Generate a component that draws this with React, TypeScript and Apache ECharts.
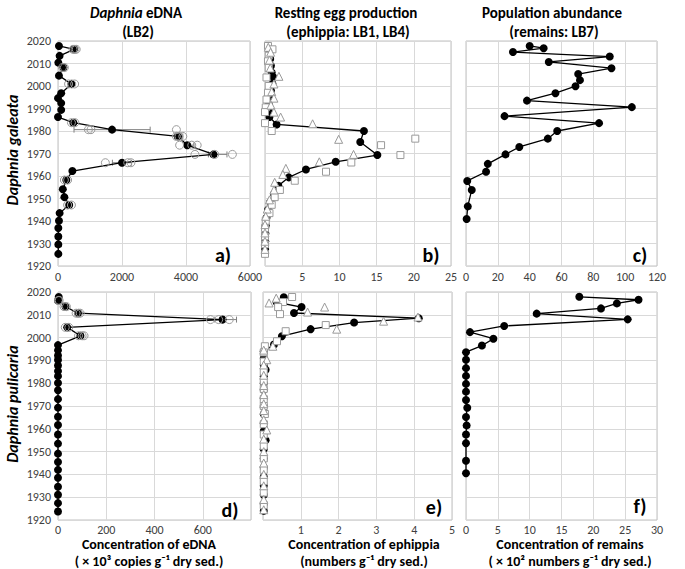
import React, { useEffect, useRef } from 'react';
import * as echarts from 'echarts';

const FONT = 'Carlito, Lato, "Noto Sans", sans-serif';

// ---------- Panel a: D. galeata eDNA (LB2) ----------
const aYears = [2017.8, 2016.3, 2013.4, 2010.4, 2008.2, 2004.6, 2000.9, 1996.8, 1994.6, 1992.4, 1989.4, 1986.2, 1983.7, 1980.6, 1977.6, 1973.7, 1969.6, 1965.9, 1962.2, 1958.2, 1954.1, 1950.6, 1947.1, 1943.5, 1940.1, 1936.9, 1933.1, 1929.6, 1925.4];
const aMean = [30, 500, 50, 10, 170, 30, 420, 100, 0, 100, 100, 0, 480, 1690, 3750, 4040, 4860, 2000, 450, 260, 150, 200, 350, 50, 30, 10, 10, 10, 10];
const aRepYears = [2016.3, 2016.3, 2016.3, 2008.2, 2008.2, 2000.9, 2000.9, 2000.9, 1983.7, 1983.7, 1980.6, 1980.6, 1980.6, 1977.6, 1977.6, 1977.6, 1973.7, 1973.7, 1973.7, 1969.6, 1969.6, 1969.6, 1965.9, 1965.9, 1965.9, 1958.2, 1958.2, 1947.1, 1947.1];
const aRepVals = [470, 530, 570, 140, 200, 330, 430, 520, 420, 530, 950, 1030, 3700, 3700, 3780, 3900, 3800, 4180, 4350, 4280, 4900, 5450, 1480, 2180, 2280, 200, 300, 300, 420];
const aErrYears = [1980.6, 1977.6, 1973.7, 1969.6, 1965.9];
const aErrLow = [500, 3650, 3950, 4700, 1700];
const aErrHigh = [2880, 3900, 4250, 5280, 2300];

// ---------- Panel b: D. galeata ephippia (LB1, LB4) ----------
const bYears = [2017.8, 2015, 2012, 2009, 2006, 2004.1, 2001, 1998, 1995, 1992, 1989, 1986.2, 1982.9, 1980, 1975.1, 1969.3, 1966.3, 1962.9, 1959.4, 1955.7, 1952, 1948.5, 1945, 1941.5, 1938, 1934.5, 1931, 1927.5];
const bMean = [0.4, 0.6, 0.7, 0.8, 0.9, 1.07, 1.0, 0.8, 0.6, 0.5, 0.5, 0.6, 1.56, 13.3, 12.8, 15.1, 9.5, 5.5, 3.2, 1.8, 1.2, 0.7, 0.4, 0.2, 0.1, 0.05, 0.03, 0.02];
const bSqYears = [2017.8, 2016.3, 2013.5, 2011, 2008, 2003.8, 2000, 1997, 1994, 1990.5, 1988.4, 1983.5, 1980, 1976.6, 1973.7, 1969.3, 1966, 1961.9, 1957.9, 1953.8, 1950.6, 1947.2, 1943.5, 1940.1, 1936.9, 1933.2, 1929.6, 1925.4];
const bSqVals = [0.4, 1.0, 0.5, 0.4, 0.5, 0.2, 0.5, 0.4, 0.2, 0.1, 0, 0, 0.9, 20.2, 15.6, 18.2, 11.6, 8.2, 4.0, 2.0, 1.3, 0.9, 0.6, 0.1, 0, 0, 0, 0];
const bTriYears = [2017.2, 2015, 2011.5, 2008, 2004.3, 2000.9, 1997.5, 1994.6, 1991.5, 1988.4, 1986.2, 1983.2, 1976.3, 1969.6, 1966.3, 1963.4, 1960.7, 1957.2, 1953.8, 1949.4, 1945.3, 1942.1, 1938.4, 1934.7, 1931, 1927.4];
const bTriVals = [0.44, 0.75, 0.6, 0.7, 1.87, 1.2, 0.9, 1.2, 0.8, 1.2, 2.1, 6.4, 9.9, 11.9, 7.3, 2.8, 2.4, 1.3, 1.2, 0.6, 0.3, 0.1, 0, 0, 0, 0];

// ---------- Panel c: D. galeata remains (LB7) ----------
const cYears = [2017.8, 2016.8, 2015.1, 2013.1, 2010.7, 2007.9, 2005.3, 2002.6, 1999.9, 1996.8, 1993.5, 1990.6, 1986.6, 1983.5, 1980.0, 1976.6, 1972.9, 1969.6, 1965.4, 1961.9, 1957.8, 1953.8, 1946.5, 1940.9];
const cVals = [40, 48.8, 29.5, 90.3, 52, 91.4, 70.5, 71.6, 68.8, 56.2, 38.3, 104.2, 24.2, 83.6, 57.3, 51.4, 33.5, 24.8, 13.7, 12.6, 0.8, 3.6, 1.1, 0.4];

// ---------- Panel d: D. pulicaria eDNA ----------
const dYears = [2017.8, 2016.3, 2013.6, 2010.7, 2007.9, 2004.5, 2000.8, 1996.7, 1994.4, 1992.2, 1990.2, 1987.8, 1985.3, 1983.1, 1980.1, 1976.9, 1973.0, 1969.3, 1965.3, 1961.7, 1957.5, 1953.5, 1949.1, 1945.4, 1942.0, 1938.5, 1934.6, 1931.1, 1927.4, 1923.7];
const dMean = [3, 0, 31, 83, 682, 38, 93, 0, 0, 0, 0, 0, 0, 0, 0, 0, 0, 0, 0, 0, 0, 0, 0, 0, 0, 0, 0, 0, 0, 0];
const dRepYears = [2016.3, 2016.3, 2013.6, 2013.6, 2010.7, 2010.7, 2010.7, 2007.9, 2007.9, 2007.9, 2004.5, 2004.5, 2000.8, 2000.8, 2000.8];
const dRepVals = [2, 5, 25, 35, 75, 85, 92, 632, 666, 710, 30, 45, 85, 100, 108];
const dErrYears = [2007.9];
const dErrLow = [650];
const dErrHigh = [740];

// ---------- Panel e: D. pulicaria ephippia ----------
const eYears = [2017.7, 2015.5, 2013.4, 2010.8, 2008.5, 2006.6, 2003.7, 2000.6, 1997.0, 1994, 1991, 1988, 1985.9, 1983, 1980, 1977, 1973.5, 1970, 1966.5, 1962.5, 1959, 1955, 1951, 1947, 1943, 1939, 1935, 1931, 1927, 1924];
const eMean = [0.55, 0.36, 1.02, 0.82, 4.12, 2.41, 1.26, 0.5, 0.29, 0.02, 0.02, 0.02, 0.07, 0.02, 0.02, 0.02, 0.02, 0.02, 0.02, 0.02, 0.02, 0.07, 0.02, 0.02, 0.02, 0.02, 0.02, 0.02, 0.02, 0.02];
const eSqYears = [2017.8, 2015.6, 2013.4, 2010.3, 2005.5, 2002.8, 1998.4, 1996.2, 1993.5, 1989.5, 1985, 1981, 1977.5, 1973, 1970, 1966.5, 1962, 1957.5, 1952.5, 1947, 1942, 1937, 1932, 1926.5];
const eSqVals = [0.77, 0.53, 0.4, 0.45, 1.66, 0.6, 0.37, 0.05, 0.02, 0.02, 0.02, 0.02, 0.02, 0.02, 0.02, 0.05, 0.02, 0.02, 0.02, 0.02, 0.02, 0.02, 0.02, 0.02];
const eTriYears = [2017.3, 2015.2, 2013.4, 2011.2, 2009, 2007.2, 2003.7, 1996.2, 1994.5, 1990.3, 1988, 1983.5, 1979, 1975, 1971, 1968, 1964, 1959.5, 1955.5, 1950, 1945, 1940, 1935, 1929, 1924.5];
const eTriVals = [0.35, 0.16, 1.63, 1.18, 4.1, 3.19, 1.95, 0.26, 0.02, 0.1, 0.02, 0.02, 0.02, 0.02, 0.02, 0.02, 0.02, 0.1, 0.02, 0.02, 0.02, 0.02, 0.02, 0.02, 0.02];

// ---------- Panel f: D. pulicaria remains ----------
const fYears = [2017.9, 2016.6, 2015.0, 2012.8, 2010.5, 2008.0, 2005.1, 2002.4, 1999.5, 1996.5, 1993.6, 1990.3, 1986.6, 1983.2, 1979.7, 1976.3, 1972.6, 1969.2, 1965.2, 1961.5, 1957.5, 1953.7, 1946.0, 1940.5];
const fVals = [17.8, 27.1, 23.7, 21.2, 11.1, 25.4, 6.0, 0.63, 4.3, 2.5, 0, 0, 0, 0, 0, 0, 0, 0.2, 0, 0.1, 0, 0, 0, 0];

// ---------- axes ----------
const xMax = [6000, 25, 120, 800, 5, 30];
const xStep = [2000, 5, 20, 200, 1, 5];
const xHide = [null, 0, null, 800, 0, null];
const yMin = 1920;
const yMax = 2020;
const yStep = 10;
const panelLetters = ['a)', 'b)', 'c)', 'd)', 'e)', 'f)'];

const grids = [
  { left: 58, top: 41, width: 192, height: 225 },
  { left: 265, top: 41, width: 186, height: 225 },
  { left: 466, top: 41, width: 191, height: 225 },
  { left: 58, top: 292, width: 193, height: 228 },
  { left: 263, top: 292, width: 189, height: 228 },
  { left: 466, top: 292, width: 191, height: 228 },
];

const pairs = (xs: number[], ys: number[]) => ys.map((y, i) => [xs[i], y]);

function meanLine(idx: number, vals: number[], years: number[], size = 8, z = 4) {
  return {
    type: 'line', xAxisIndex: idx, yAxisIndex: idx,
    data: pairs(vals, years),
    symbol: 'circle', symbolSize: size,
    itemStyle: { color: '#000' },
    lineStyle: { color: '#000', width: 1.3 },
    z,
  };
}

function openMarks(idx: number, vals: number[], years: number[], symbol: string, size: number, fill: string, z: number) {
  return {
    type: 'scatter', xAxisIndex: idx, yAxisIndex: idx,
    data: pairs(vals, years),
    symbol, symbolSize: size,
    itemStyle: { color: fill, borderColor: '#9a9a9a', borderWidth: 1, opacity: 1 },
    z,
  };
}

function errBars(idx: number, years: number[], lo: number[], hi: number[]) {
  return {
    type: 'custom', xAxisIndex: idx, yAxisIndex: idx,
    data: years.map((y, i) => [lo[i], hi[i], y]),
    encode: { x: [0, 1], y: 2 },
    renderItem: (params: any, api: any) => {
      const p1 = api.coord([api.value(0), api.value(2)]);
      const p2 = api.coord([api.value(1), api.value(2)]);
      const h = 3;
      const st = { stroke: '#808080', lineWidth: 1 };
      return {
        type: 'group',
        children: [
          { type: 'line', shape: { x1: p1[0], y1: p1[1], x2: p2[0], y2: p2[1] }, style: st },
          { type: 'line', shape: { x1: p1[0], y1: p1[1] - h, x2: p1[0], y2: p1[1] + h }, style: st },
          { type: 'line', shape: { x1: p2[0], y1: p2[1] - h, x2: p2[0], y2: p2[1] + h }, style: st },
        ],
      };
    },
    z: 2,
  };
}

function txt(x: number, y: number, text: string, size: number, opts: any = {}) {
  return {
    type: 'text', x, y, rotation: opts.rotation || 0,
    style: {
      text, x: 0, y: 0,
      textAlign: 'center', textVerticalAlign: 'middle',
      fontFamily: FONT, fontSize: size, fontWeight: opts.weight || 'bold',
      fontStyle: opts.style || 'normal',
      fill: '#000',
      rich: opts.rich,
    },
  };
}

const richTitle = (size: number) => ({
  i: { fontFamily: FONT, fontSize: size, fontWeight: 'bold', fontStyle: 'italic', fill: '#000' },
  n: { fontFamily: FONT, fontSize: size, fontWeight: 'bold', fill: '#000' },
});

export default function App() {
  const ref = useRef<HTMLDivElement>(null);
  useEffect(() => {
    if (!ref.current) return;
    const chart = echarts.init(ref.current, undefined, { renderer: 'svg' });
    const xAxis = grids.map((_, i) => ({
      type: 'value', gridIndex: i, min: 0, max: xMax[i], interval: xStep[i],
      axisLine: { show: false }, axisTick: { show: false },
      splitLine: { show: true, lineStyle: { color: '#d9d9d9', width: 1 } },
      axisLabel: {
        color: '#404040', fontFamily: FONT, fontSize: 12, margin: i < 3 ? 5 : 4,
        formatter: (v: number) => (xHide[i] !== null && v === xHide[i] ? '' : String(v)),
      },
    }));
    const yAxis = grids.map((_, i) => ({
      type: 'value', gridIndex: i, min: yMin, max: yMax, interval: yStep,
      axisLine: { show: false }, axisTick: { show: false },
      splitLine: { show: true, lineStyle: { color: '#d9d9d9', width: 1 } },
      axisLabel: {
        show: i === 0 || i === 3, color: '#404040', fontFamily: FONT, fontSize: 12, margin: 7,
        formatter: (v: number) => String(v),
      },
    }));
    const series: any[] = [
      errBars(0, aErrYears, aErrLow, aErrHigh),
      meanLine(0, aMean, aYears),
      openMarks(0, aRepVals, aRepYears, 'circle', 8, 'rgba(255,255,255,0)', 5),
      meanLine(1, bMean, bYears, 8, 3),
      openMarks(1, bSqVals, bSqYears, 'rect', 7, '#fff', 4),
      openMarks(1, bTriVals, bTriYears, 'triangle', 8, '#fff', 4),
      meanLine(2, cVals, cYears),
      errBars(3, dErrYears, dErrLow, dErrHigh),
      meanLine(3, dMean, dYears),
      openMarks(3, dRepVals, dRepYears, 'circle', 8, 'rgba(255,255,255,0)', 5),
      meanLine(4, eMean, eYears, 8, 3),
      openMarks(4, eSqVals, eSqYears, 'rect', 7, '#fff', 4),
      openMarks(4, eTriVals, eTriYears, 'triangle', 8, '#fff', 4),
      meanLine(5, fVals, fYears),
    ];
    const letterPos = [[223, 255], [431, 255], [640, 255], [230, 510], [434, 507], [640, 506]];
    const graphic: any[] = [
      txt(136, 13, '{i|Daphnia}{n| eDNA}', 15, { rich: richTitle(15) }),
      txt(138, 32, '(LB2)', 15),
      txt(346, 13, 'Resting egg production', 15),
      txt(348, 32, '(ephippia: LB1, LB4)', 15),
      txt(552, 13, 'Population abundance', 15),
      txt(554, 32, '(remains: LB7)', 15),
      txt(12, 150, 'Daphnia galeata', 16, { style: 'italic', rotation: Math.PI / 2 }),
      txt(12, 404, 'Daphnia pulicaria', 16, { style: 'italic', rotation: Math.PI / 2 }),
      txt(149, 544, 'Concentration of eDNA', 14),
      txt(149, 561, '( \u00d7 10\u00b3 copies g\u207b\u00b9 dry sed.)', 14),
      txt(364, 544, 'Concentration of ephippia', 14),
      txt(364, 561, '(numbers g\u207b\u00b9 dry sed.)', 14),
      txt(570, 544, 'Concentration of remains', 14),
      txt(570, 561, '( \u00d7 10\u00b2 numbers g\u207b\u00b9 dry sed.)', 14),
      ...panelLetters.map((l, i) => txt(letterPos[i][0], letterPos[i][1], l, 20)),
    ];
    chart.setOption({
      animation: false,
      backgroundColor: '#fff',
      grid: grids.map((g) => ({ ...g, show: true, borderColor: '#c0c0c0', borderWidth: 1, containLabel: false })),
      xAxis, yAxis, series, graphic,
    });
    return () => chart.dispose();
  }, []);
  return <div ref={ref} style={{ position: 'absolute', left: 0, top: 0, width: 685, height: 569 }} />;
}
